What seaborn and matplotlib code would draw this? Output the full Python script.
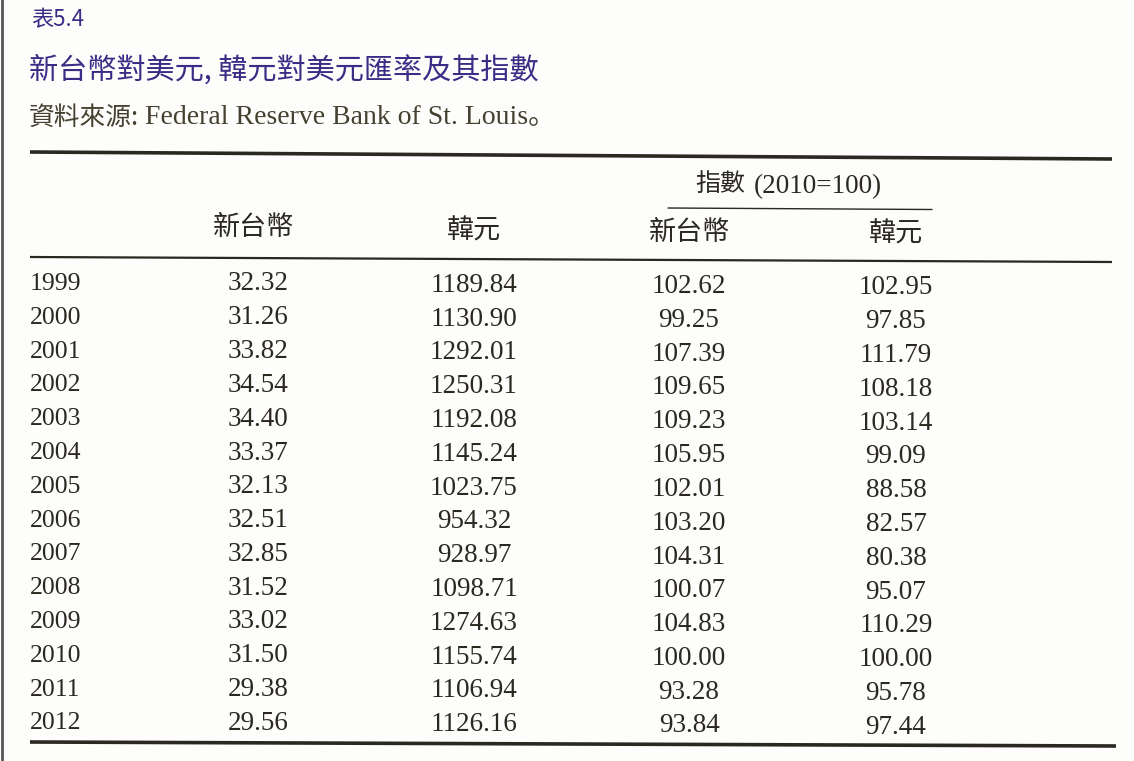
import matplotlib
matplotlib.use("Agg")
import matplotlib.pyplot as plt
import seaborn as sns
import numpy as np

sns.set_theme(style="white")
plt.rcParams['font.family'] = ['Noto Sans CJK TC', 'DejaVu Sans']

years = [1999, 2000, 2001, 2002, 2003, 2004, 2005, 2006, 2007, 2008, 2009, 2010, 2011, 2012]
twd = [32.32, 31.26, 33.82, 34.54, 34.40, 33.37, 32.13, 32.51, 32.85, 31.52, 33.02, 31.50, 29.38, 29.56]
krw = [1189.84, 1130.90, 1292.01, 1250.31, 1192.08, 1145.24, 1023.75, 954.32, 928.97, 1098.71, 1274.63, 1155.74, 1106.94, 1126.16]
twd_idx = [102.62, 99.25, 107.39, 109.65, 109.23, 105.95, 102.01, 103.20, 104.31, 100.07, 104.83, 100.00, 93.28, 93.84]
krw_idx = [102.95, 97.85, 111.79, 108.18, 103.14, 99.09, 88.58, 82.57, 80.38, 95.07, 110.29, 100.00, 95.78, 97.44]

table_no = "表5.4"
title = "新台幣對美元, 韓元對美元匯率及其指數"
source_cjk = "資料來源:"
source_en = "Federal Reserve Bank of St. Louis。"
group_header_cjk = "指數"
group_header_en = "(2010=100)"
col_headers = ["新台幣", "韓元", "新台幣", "韓元"]

W, H = 1134, 761
fig = plt.figure(figsize=(W / 100, H / 100), dpi=100)
fig.patch.set_facecolor("#fdfdfb")
ax = fig.add_axes([0, 0, 1, 1])
ax.set_xlim(0, W)
ax.set_ylim(H, 0)
ax.axis("off")

purple = "#3a2d86"
ink = "#2b2721"
src_col = "#45402f"
serif = ["Liberation Serif", "DejaVu Serif"]

# page edge
ax.plot([1.5, 1.5], [0, H], color="#555555", lw=2)

ax.text(31, 20, table_no, color=purple, fontsize=16, va="center", ha="left")
ax.text(29, 70, title, color=purple, fontsize=21, va="center", ha="left")
ax.text(29, 118, source_cjk, color=src_col, fontsize=18.5, va="center", ha="left")
ax.text(145, 117, source_en, color=src_col, fontsize=20,
        va="center", ha="left", family=serif + ["Noto Sans CJK JP"])

# rules
ax.plot([30, 1112], [152, 159], color=ink, lw=2.6, solid_capstyle="butt")
ax.plot([668, 932], [208, 209.5], color=ink, lw=1.0)
ax.plot([30, 1112], [257, 262], color=ink, lw=1.6, solid_capstyle="butt")
ax.plot([30, 1116], [742, 746], color=ink, lw=2.6, solid_capstyle="butt")

ax.text(695, 184, group_header_cjk, color=ink, fontsize=18, va="center", ha="left")
ax.text(754, 187, group_header_en, color=ink, fontsize=19.5, va="center", ha="left", family=serif)

col_x = [254, 474, 690, 896]
hdr_y = [227, 231, 232, 234]
for x, y, h in zip(col_x, hdr_y, col_headers):
    ax.text(x, y, h, color=ink, fontsize=19.5, va="center", ha="center")

row_y = 284 + np.arange(len(years)) * 33.8
val_x = [258, 474, 689, 896]
cols = [twd, krw, twd_idx, krw_idx]
for i, yr in enumerate(years):
    y0 = row_y[i]
    ax.text(30, y0, str(yr), color=ink, fontsize=18.5, va="center", ha="left", family=serif)
    for j, (x, vals) in enumerate(zip(val_x, cols)):
        ax.text(x, y0 + j * 1.3, f"{vals[i]:.2f}", color=ink, fontsize=19.5,
                va="center", ha="center", family=serif)

fig.savefig("out.png", dpi=100, facecolor=fig.get_facecolor())
